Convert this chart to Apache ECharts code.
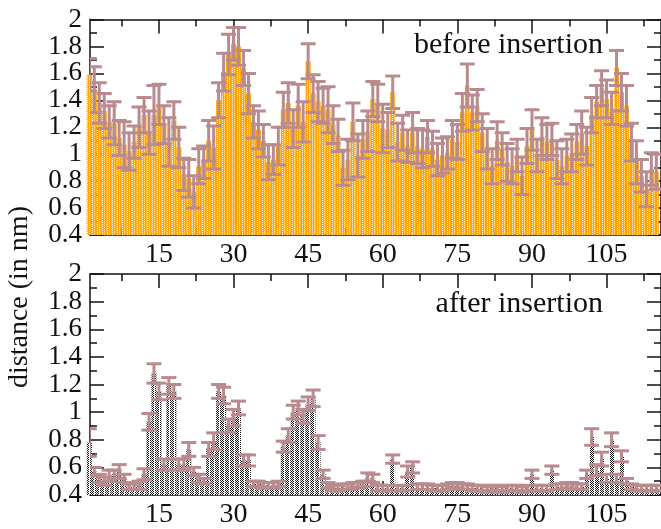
<!DOCTYPE html>
<html>
<head>
<meta charset="utf-8">
<script src="https://cdn.jsdelivr.net/npm/echarts@6/dist/echarts.min.js"></script>
<style>
  html, body { margin: 0; padding: 0; background: #fff; }
  #chart { width: 661px; height: 529px; }
</style>
</head>
<body>
<div id="chart"></div>
<script>
// residue distances, before insertion (nm)
var beforeVals = [1.59, 1.48, 1.38, 1.32, 1.24, 1.23, 1.12, 1.07, 1.02, 1.09,
  1.20, 1.29, 1.16, 1.29, 1.37, 1.22, 1.09, 1.25, 1.05, 0.85,
  0.82, 0.72, 0.91, 0.94, 1.10, 1.05, 1.40, 1.61, 1.74, 1.82,
  1.80, 1.64, 1.45, 1.24, 1.18, 1.10, 0.94, 0.96, 1.06, 1.33,
  1.38, 1.19, 1.36, 1.24, 1.69, 1.45, 1.39, 1.36, 1.33, 1.22,
  1.14, 0.90, 0.96, 1.24, 0.99, 1.11, 1.17, 1.41, 1.38, 1.19,
  1.18, 1.46, 1.09, 1.16, 1.06, 1.16, 1.06, 1.04, 1.13, 1.04,
  0.96, 0.99, 1.01, 1.11, 1.09, 1.31, 1.51, 1.31, 1.36, 1.16,
  1.04, 0.91, 1.10, 1.04, 0.94, 0.91, 0.99, 0.84, 1.06, 1.18,
  0.99, 1.13, 1.09, 1.11, 0.96, 0.91, 0.99, 1.01, 1.09, 1.16,
  1.06, 1.29, 1.39, 1.49, 1.41, 1.34, 1.64, 1.46, 1.36, 1.09,
  0.94, 0.84, 0.74, 0.89, 0.87]
var beforeErr = [0.12, 0.17, 0.15, 0.13, 0.12, 0.16, 0.13, 0.17, 0.14, 0.12,
  0.15, 0.13, 0.16, 0.22, 0.15, 0.14, 0.18, 0.14, 0.15, 0.12,
  0.14, 0.12, 0.13, 0.12, 0.15, 0.16, 0.13, 0.14, 0.15, 0.12,
  0.14, 0.13, 0.15, 0.12, 0.14, 0.12, 0.13, 0.11, 0.14, 0.13,
  0.15, 0.14, 0.16, 0.15, 0.13, 0.14, 0.15, 0.13, 0.17, 0.14,
  0.12, 0.13, 0.15, 0.14, 0.16, 0.14, 0.15, 0.13, 0.14, 0.18,
  0.13, 0.12, 0.14, 0.13, 0.12, 0.15, 0.13, 0.14, 0.12, 0.13,
  0.12, 0.13, 0.12, 0.14, 0.13, 0.14, 0.16, 0.13, 0.12, 0.14,
  0.15, 0.13, 0.14, 0.12, 0.14, 0.13, 0.12, 0.14, 0.13, 0.15,
  0.12, 0.14, 0.13, 0.12, 0.14, 0.13, 0.12, 0.14, 0.13, 0.16,
  0.14, 0.13, 0.12, 0.13, 0.14, 0.12, 0.13, 0.14, 0.15, 0.14,
  0.16, 0.12, 0.13, 0.12, 0.13]

// residue distances, after insertion (nm)
var afterVals = [0.78, 0.57, 0.52, 0.50, 0.54, 0.55, 0.57, 0.52, 0.46, 0.46,
  0.47, 0.55, 0.93, 1.28, 1.15, 0.62, 1.19, 1.15, 0.62, 0.62,
  0.73, 0.57, 0.52, 0.50, 0.73, 0.79, 1.15, 1.12, 0.90, 0.96,
  1.03, 0.65, 0.65, 0.48, 0.48, 0.47, 0.47, 0.47, 0.48, 0.75,
  0.83, 1.00, 1.03, 0.97, 1.06, 1.10, 0.78, 0.55, 0.47, 0.45,
  0.45, 0.46, 0.46, 0.47, 0.47, 0.48, 0.53, 0.52, 0.45, 0.45,
  0.45, 0.66, 0.45, 0.45, 0.57, 0.60, 0.46, 0.46, 0.46, 0.45,
  0.45, 0.45, 0.46, 0.47, 0.47, 0.46, 0.46, 0.45, 0.45, 0.45,
  0.44, 0.45, 0.45, 0.44, 0.45, 0.45, 0.45, 0.44, 0.45, 0.55,
  0.45, 0.45, 0.45, 0.58, 0.46, 0.46, 0.47, 0.47, 0.46, 0.46,
  0.55, 0.82, 0.58, 0.66, 0.52, 0.80, 0.52, 0.68, 0.50, 0.46,
  0.45, 0.45, 0.45, 0.45, 0.45]
var afterErr = [0.10, 0.03, 0.03, 0.03, 0.04, 0.03, 0.05, 0.03, 0.02, 0.02,
  0.03, 0.04, 0.06, 0.07, 0.06, 0.04, 0.06, 0.05, 0.04, 0.04,
  0.05, 0.03, 0.03, 0.02, 0.05, 0.06, 0.05, 0.06, 0.05, 0.06,
  0.05, 0.04, 0.04, 0.02, 0.02, 0.02, 0.02, 0.02, 0.02, 0.04,
  0.05, 0.05, 0.05, 0.05, 0.05, 0.06, 0.05, 0.03, 0.02, 0.02,
  0.02, 0.02, 0.02, 0.02, 0.02, 0.02, 0.03, 0.03, 0.02, 0.02,
  0.02, 0.03, 0.02, 0.02, 0.04, 0.04, 0.02, 0.02, 0.02, 0.02,
  0.02, 0.02, 0.02, 0.02, 0.02, 0.02, 0.02, 0.02, 0.02, 0.02,
  0.02, 0.02, 0.02, 0.02, 0.02, 0.02, 0.02, 0.02, 0.02, 0.03,
  0.02, 0.02, 0.02, 0.03, 0.02, 0.02, 0.02, 0.02, 0.02, 0.02,
  0.03, 0.06, 0.04, 0.05, 0.03, 0.05, 0.03, 0.04, 0.02, 0.02,
  0.02, 0.02, 0.02, 0.02, 0.02]

var xMajorTicks = [15, 30, 45, 60, 75, 90, 105]
var xMinorTicks = [7.5, 22.5, 37.5, 52.5, 67.5, 82.5, 97.5, 112.5]
var panelLabels = ['before insertion', 'after insertion']
var yTitle = 'distance (in nm)'

var errColor = '#b98b8f'
var frameColor = '#4a4a4a'
var serif = '"Liberation Serif", "DejaVu Serif", serif'

// hatch fills
function makePattern(w, h, fn) {
  var c = document.createElement('canvas')
  c.width = w
  c.height = h
  var ctx = c.getContext('2d')
  for (var x = 0; x < w; x++) {
    for (var y = 0; y < h; y++) {
      ctx.fillStyle = fn(x, y)
      ctx.fillRect(x, y, 1, 1)
    }
  }
  return c
}
var orangeHatch = makePattern(5, 4, function(x, y) {
  if (x === 2) return y % 2 ? '#ffa500' : '#fff2d8'
  if (x === 4) return y % 2 ? '#ffe2a8' : '#ffb52e'
  return '#ffa500'
})
var greyHatch = makePattern(5, 2, function(x, y) {
  if (x === 4) return '#ffffff'
  return (x + y) % 2 ? '#ffffff' : '#111111'
})

function barData(vals) {
  return vals.map(function(v, i) { return [i + 1, v] })
}
function errData(vals, errs) {
  return vals.map(function(v, i) { return [i + 1, v - errs[i], v + errs[i]] })
}

function renderErr(params, api) {
  var x = api.value(0)
  var lo = api.coord([x, api.value(1)])
  var hi = api.coord([x, api.value(2)])
  var hw = 7.5
  var st = { stroke: errColor, lineWidth: 3 }
  return {
    type: 'group',
    children: [
      { type: 'line', shape: { x1: hi[0], y1: hi[1], x2: lo[0], y2: lo[1] }, style: st },
      { type: 'line', shape: { x1: hi[0] - hw, y1: hi[1], x2: hi[0] + hw, y2: hi[1] }, style: st },
      { type: 'line', shape: { x1: lo[0] - hw, y1: lo[1], x2: lo[0] + hw, y2: lo[1] }, style: st }
    ]
  }
}

var xMin = 1.14
var xMax = 115.94

function xAxes(grid) {
  var base = {
    gridIndex: grid, type: 'value', min: xMin, max: xMax,
    splitLine: { show: false }
  }
  var line = { show: true, lineStyle: { color: frameColor, width: 2 } }
  var noLine = { show: false }
  return [
    Object.assign({}, base, {
      position: 'bottom', axisLine: line,
      axisTick: { show: true, inside: true, length: 14, customValues: xMajorTicks, lineStyle: { color: '#111', width: 1.5 } },
      axisLabel: { show: true, customValues: xMajorTicks, margin: 6, fontFamily: serif, fontSize: 28, color: '#111' }
    }),
    Object.assign({}, base, {
      position: 'bottom', axisLine: noLine,
      axisTick: { show: true, inside: true, length: 7, customValues: xMinorTicks, lineStyle: { color: '#111', width: 1.5 } },
      axisLabel: { show: false }
    }),
    Object.assign({}, base, {
      position: 'top', axisLine: line,
      axisTick: { show: true, inside: true, length: 14, customValues: xMajorTicks, lineStyle: { color: '#111', width: 1.5 } },
      axisLabel: { show: false }
    }),
    Object.assign({}, base, {
      position: 'top', axisLine: noLine,
      axisTick: { show: true, inside: true, length: 7, customValues: xMinorTicks, lineStyle: { color: '#111', width: 1.5 } },
      axisLabel: { show: false }
    })
  ]
}

function yAxes(grid) {
  var base = {
    gridIndex: grid, type: 'value', min: 0.4, max: 2, interval: 0.2,
    splitLine: { show: false },
    axisLine: { show: true, lineStyle: { color: frameColor, width: 2 } },
    axisTick: { show: true, inside: true, length: 14, lineStyle: { color: '#111', width: 1.5 } },
    minorTick: { show: true, splitNumber: 2, length: 7, lineStyle: { color: '#111', width: 1.5 } }
  }
  return [
    Object.assign({}, base, {
      position: 'left',
      axisLabel: { show: true, margin: 8, fontFamily: serif, fontSize: 27, color: '#111' }
    }),
    Object.assign({}, base, {
      position: 'right',
      axisLabel: { show: false }
    })
  ]
}

var chart = echarts.init(document.getElementById('chart'), null, { renderer: 'canvas' })
chart.setOption({
  animation: false,
  backgroundColor: '#ffffff',
  grid: [
    { left: 90, top: 19.5, width: 574, height: 215.5 },
    { left: 90, top: 274, width: 574, height: 223 }
  ],
  xAxis: xAxes(0).concat(xAxes(1)),
  yAxis: yAxes(0).concat(yAxes(1)),
  series: [
    {
      name: 'before', type: 'bar', xAxisIndex: 0, yAxisIndex: 0,
      barWidth: 5, data: barData(beforeVals),
      itemStyle: { color: { image: orangeHatch, repeat: 'repeat' } }
    },
    {
      name: 'after', type: 'bar', xAxisIndex: 4, yAxisIndex: 2,
      barWidth: 5, data: barData(afterVals),
      itemStyle: { color: { image: greyHatch, repeat: 'repeat' } }
    },
    {
      name: 'beforeErr', type: 'custom', xAxisIndex: 0, yAxisIndex: 0,
      clip: true, renderItem: renderErr, encode: { x: 0, y: [1, 2] },
      data: errData(beforeVals, beforeErr), z: 5
    },
    {
      name: 'afterErr', type: 'custom', xAxisIndex: 4, yAxisIndex: 2,
      clip: true, renderItem: renderErr, encode: { x: 0, y: [1, 2] },
      data: errData(afterVals, afterErr), z: 5
    }
  ],
  graphic: [
    {
      type: 'text', x: 603, y: 45, z: 10,
      style: { text: panelLabels[0], font: '30px ' + serif, fill: '#111', align: 'right', verticalAlign: 'middle' }
    },
    {
      type: 'text', x: 603, y: 304, z: 10,
      style: { text: panelLabels[1], font: '30px ' + serif, fill: '#111', align: 'right', verticalAlign: 'middle' }
    },
    {
      type: 'text', x: 20, y: 297, rotation: Math.PI / 2, z: 10,
      style: { text: yTitle, font: '28px ' + serif, fill: '#111', align: 'center', verticalAlign: 'middle' }
    }
  ]
})
</script>
</body>
</html>
